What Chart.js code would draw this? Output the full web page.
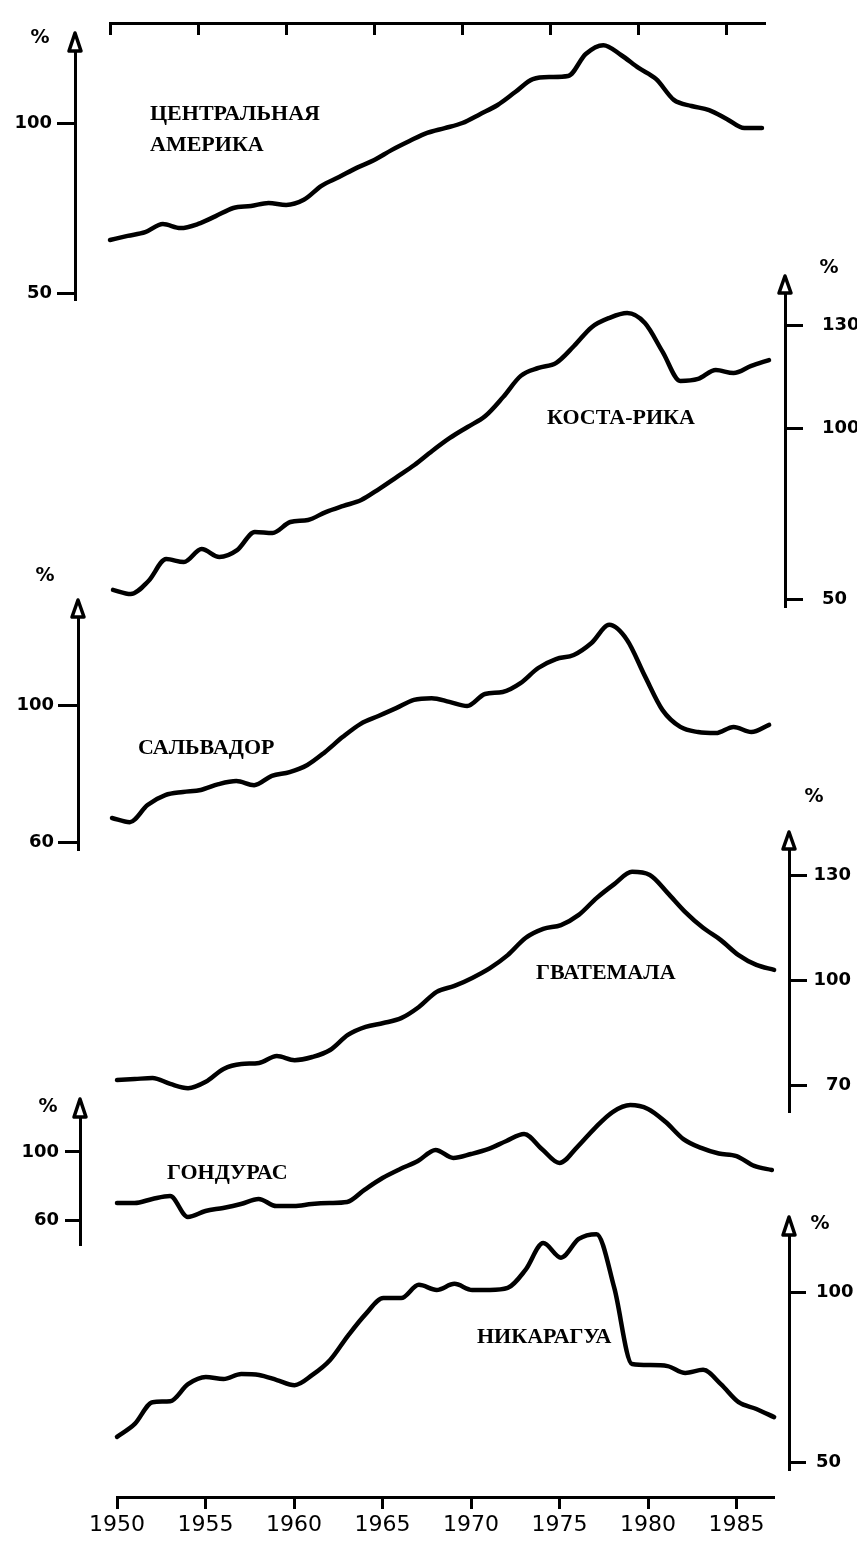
<!DOCTYPE html>
<html><head><meta charset="utf-8">
<script src="https://cdn.jsdelivr.net/npm/chart.js@4.4.1/dist/chart.umd.min.js"></script>
<style>
html,body{margin:0;padding:0;background:#fff;}
#page{position:relative;width:868px;height:1541px;overflow:hidden;background:#fff;}
#page canvas{position:absolute;left:0;}
</style></head><body><div id="page"></div>
<script>
// ---------- data ----------
const years = [1950,1951,1952,1953,1954,1955,1956,1957,1958,1959,1960,1961,1962,1963,1964,1965,1966,1967,1968,1969,1970,1971,1972,1973,1974,1975,1976,1977,1978,1979,1980,1981,1982,1983,1984,1985,1986,1987];
const tickYears = [1950,1955,1960,1965,1970,1975,1980,1985];

const centralAmerica = [65.6,66.8,67.9,70.3,69.1,70.3,72.6,75.0,75.6,76.5,75.9,77.4,81.5,84.1,86.8,89.1,92.1,94.7,97.1,98.5,100.0,102.6,105.3,109.1,112.9,113.5,113.8,120.3,122.9,120.0,116.2,112.9,106.8,105.0,103.8,101.2,98.5,98.5];
const costaRica = [52.8,51.6,55.4,61.8,60.9,64.7,62.4,64.4,69.7,69.4,72.6,73.2,75.5,77.3,79.0,82.2,85.7,89.2,93.3,97.1,100.3,103.5,109.0,115.2,117.5,119.0,123.9,129.4,132.1,133.5,130.6,122.2,113.7,114.3,116.9,116.0,118.1,119.8];
const salvador = [67.0,65.8,70.8,73.7,74.6,75.2,76.9,77.8,76.6,79.3,80.4,82.5,86.3,90.7,94.5,96.8,99.1,101.5,102.0,100.9,99.7,103.2,103.8,106.4,110.8,113.4,114.6,118.1,123.4,119.0,108.5,98.5,93.6,92.1,91.8,93.6,92.1,94.2];
const guatemala = [71.4,71.7,72.0,70.3,69.1,70.9,74.6,76.0,76.3,78.3,77.1,78.0,80.0,84.3,86.6,87.7,89.1,92.3,96.6,98.3,100.6,103.4,107.1,112.0,114.6,115.7,118.6,123.4,127.4,130.9,130.0,124.9,119.4,114.9,111.4,107.1,104.3,102.9];
const honduras = [70.0,70.0,72.4,74.1,61.8,65.3,67.1,69.4,72.4,68.2,68.2,69.4,70.0,70.6,77.9,84.7,90.0,94.7,101.2,96.5,98.8,101.8,106.5,110.6,101.8,93.5,102.9,114.1,123.5,127.6,125.3,117.6,107.6,102.4,99.1,97.6,91.8,89.4];
const nicaragua = [57.4,61.2,67.6,67.9,72.9,75.0,74.4,75.9,75.6,74.1,72.6,75.6,80.0,87.1,93.5,98.2,98.2,102.1,100.6,102.4,100.6,100.6,101.2,106.5,114.4,110.1,115.6,117.0,101.2,78.8,78.5,78.2,76.2,77.1,72.9,67.6,65.6,63.2];

const caTicks = [50,100];
const crTicks = [50,100,130];
const svTicks = [60,100];
const gtTicks = [70,100,130];
const hnTicks = [60,100];
const niTicks = [50,100];

// ---------- layout ----------
const W = 868, PAD = 60;
const TICK_FONT = {family:'"DejaVu Sans", sans-serif', size:18, weight:'bold'};
const YEAR_FONT = {family:'"DejaVu Sans", sans-serif', size:22, weight:'normal'};
const TITLE_FONT = 'bold 22px "Liberation Serif", "DejaVu Serif", serif';
const PCT_FONT = 'bold 19px "DejaVu Sans", sans-serif';

const panels = [
  {title:['ЦЕНТРАЛЬНАЯ','АМЕРИКА'], values:centralAmerica, ticks:caTicks, side:'left', axisX:75, axw:72, topPx:50, bottomPx:300, refVal:100, refPx:123, k:3.4, x0:110, ppy:17.62, tickLen:18, tickPad:5, align:'near', titleX:150, titleY:[114,145], pct:[40,38], tip:17},
  {title:['КОСТА-РИКА'], values:costaRica, ticks:crTicks, side:'right', axisX:785, axw:72, topPx:292, bottomPx:607, refVal:100, refPx:428, k:3.43, x0:113, ppy:17.73, tickLen:18, tickPad:19, align:'near', titleX:547, titleY:[418], pct:[829,268], tip:16},
  {title:['САЛЬВАДОР'], values:salvador, ticks:svTicks, side:'left', axisX:78, axw:72, topPx:616, bottomPx:850, refVal:100, refPx:705, k:3.425, x0:112, ppy:17.76, tickLen:20, tickPad:4, align:'near', titleX:138, titleY:[748], pct:[45,576], tip:16},
  {title:['ГВАТЕМАЛА'], values:guatemala, ticks:gtTicks, side:'right', axisX:789, axw:62, topPx:848, bottomPx:1112, refVal:100, refPx:980, k:3.5, x0:117, ppy:17.76, tickLen:18, tickPad:4, align:'far', titleX:536, titleY:[973], pct:[814,797], tip:16},
  {title:['ГОНДУРАС'], values:honduras, ticks:hnTicks, side:'left', axisX:80, axw:72, topPx:1116, bottomPx:1245, refVal:100, refPx:1152, k:1.7, x0:117, ppy:17.7, tickLen:15, tickPad:6, align:'near', titleX:167, titleY:[1173], pct:[48,1107], tip:17},
  {title:['НИКАРАГУА'], values:nicaragua, ticks:niTicks, side:'right', axisX:789, axw:72, topPx:1234, bottomPx:1470, refVal:100, refPx:1292, k:3.4, x0:117, ppy:17.76, tickLen:17, tickPad:10, align:'near', titleX:477, titleY:[1337], pct:[820,1224], tip:17}
];

const page = document.getElementById('page');
function addCanvas(top, height){
  const c = document.createElement('canvas');
  c.width = W; c.height = height;
  c.style.top = top + 'px'; c.style.width = W + 'px'; c.style.height = height + 'px';
  page.appendChild(c);
  return c;
}

function makePanel(p){
  const canvasTop = p.topPx - PAD;
  const height = (p.bottomPx - p.topPx) + 2*PAD;
  const c = addCanvas(canvasTop, height);
  let chartLeft, chartRight, padL, padR;
  if (p.side === 'left'){ chartLeft = p.axisX; chartRight = 800; padL = p.axisX - p.axw; padR = W - chartRight; }
  else { chartLeft = 60; chartRight = p.axisX; padL = chartLeft; padR = W - p.axisX - p.axw; }
  const xMin = 1950 - (p.x0 - chartLeft)/p.ppy;
  const xMax = 1950 + (chartRight - p.x0)/p.ppy;
  const yMin = p.refVal - (p.bottomPx - p.refPx)/p.k;
  const yMax = p.refVal + (p.refPx - p.topPx)/p.k;
  const decor = {
    id:'decor',
    afterDraw(chart){
      const {ctx, chartArea} = chart;
      const ax = p.side === 'left' ? chartArea.left : chartArea.right;
      const top = chartArea.top;
      ctx.save();
      ctx.beginPath();
      ctx.moveTo(ax, top - p.tip);
      ctx.lineTo(ax - 6, top + 1);
      ctx.lineTo(ax + 6, top + 1);
      ctx.closePath();
      ctx.fillStyle = '#fff'; ctx.fill();
      ctx.lineWidth = 3.5; ctx.strokeStyle = '#000'; ctx.lineJoin = 'round'; ctx.stroke();
      ctx.fillStyle = '#000';
      ctx.font = PCT_FONT; ctx.textAlign = 'center'; ctx.textBaseline = 'middle';
      ctx.fillText('%', p.pct[0], p.pct[1] - canvasTop);
      ctx.font = TITLE_FONT; ctx.textAlign = 'left';
      p.title.forEach((t,i) => ctx.fillText(t, p.titleX, p.titleY[i] - canvasTop));
      ctx.restore();
    }
  };
  new Chart(c, {
    type:'line',
    data:{ datasets:[{
      data: years.map((x,i) => ({x:x, y:p.values[i]})),
      borderColor:'#000', borderWidth:4.5, pointRadius:0, fill:false,
      cubicInterpolationMode:'monotone', clip:false,
      borderCapStyle:'round', borderJoinStyle:'round'
    }]},
    options:{
      responsive:false, animation:false, events:[],
      layout:{ padding:{ top:PAD, bottom:PAD, left:padL, right:padR } },
      plugins:{ legend:{display:false}, tooltip:{enabled:false} },
      scales:{
        x:{ type:'linear', display:false, min:xMin, max:xMax },
        y:{ type:'linear', position:p.side, min:yMin, max:yMax,
            afterFit(s){ s.width = p.axw; },
            afterBuildTicks(s){ s.ticks = p.ticks.map(v => ({value:v})); },
            border:{ display:true, width:3, color:'#000' },
            grid:{ display:true, drawOnChartArea:false, drawTicks:true, tickLength:p.tickLen, tickWidth:3, tickColor:'#000' },
            ticks:{ color:'#000', font:TICK_FONT, padding:p.tickPad, crossAlign:p.align, callback:v => String(v) }
        }
      }
    },
    plugins:[decor]
  });
}
panels.forEach(makePanel);

// top axis
(function(){
  const left = 110, right = 765, axisY = 23, h = 60;
  const c = addCanvas(0, h);
  new Chart(c, {
    type:'line', data:{datasets:[]},
    options:{
      responsive:false, animation:false, events:[],
      layout:{ padding:{ top:0, bottom:0, left:left, right:W-right } },
      plugins:{ legend:{display:false}, tooltip:{enabled:false} },
      scales:{
        x:{ type:'linear', position:'bottom', min:1950, max:1950 + (right-left)/17.62,
            afterFit(s){ s.height = h - axisY; },
            afterBuildTicks(s){ s.ticks = tickYears.map(v => ({value:v})); },
            border:{ display:true, width:3, color:'#000' },
            grid:{ display:true, drawOnChartArea:false, tickLength:12, tickWidth:3, tickColor:'#000' },
            ticks:{ display:false } },
        y:{ display:false, min:0, max:1 }
      }
    }
  });
})();

// bottom axis
(function(){
  const left = 117, right = 774, axisY = 1497, top = 1400, h = 1541 - 1400;
  const c = addCanvas(top, h);
  new Chart(c, {
    type:'line', data:{datasets:[]},
    options:{
      responsive:false, animation:false, events:[],
      layout:{ padding:{ top:0, bottom:0, left:left, right:W-right } },
      plugins:{ legend:{display:false}, tooltip:{enabled:false} },
      scales:{
        x:{ type:'linear', position:'bottom', min:1950, max:1950 + (right-left)/17.7,
            afterFit(s){ s.height = (top + h) - axisY; },
            afterBuildTicks(s){ s.ticks = tickYears.map(v => ({value:v})); },
            border:{ display:true, width:3, color:'#000' },
            grid:{ display:true, drawOnChartArea:false, tickLength:12, tickWidth:3, tickColor:'#000' },
            ticks:{ color:'#000', font:YEAR_FONT, padding:3, maxRotation:0, minRotation:0, autoSkip:false, callback:v => String(v) } },
        y:{ display:false, min:0, max:1 }
      }
    }
  });
})();
</script>
</body></html>
